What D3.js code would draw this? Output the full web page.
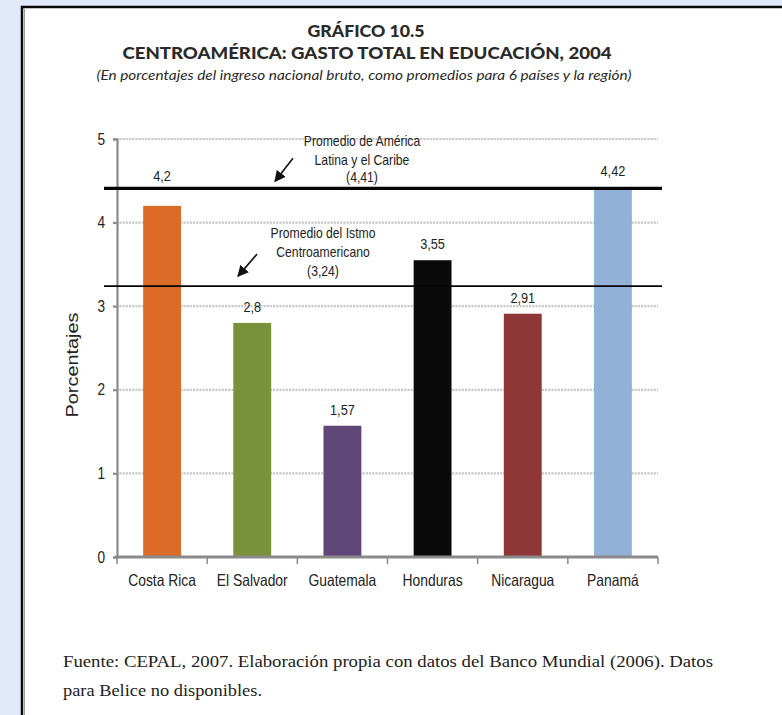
<!DOCTYPE html>
<html>
<head>
<meta charset="utf-8">
<script src="https://cdn.jsdelivr.net/npm/d3@7"></script>
<style>
  html, body { margin: 0; padding: 0; background: #dfe9fa; }
  svg { display: block; }
  .narrow { font-family: "Liberation Sans", Arial, sans-serif; }
</style>
</head>
<body>
<svg id="chart" width="782" height="715"></svg>
<script>
// ---- data ----
const categories = ["Costa Rica", "El Salvador", "Guatemala", "Honduras", "Nicaragua", "Panamá"];
const values = [4.2, 2.8, 1.57, 3.55, 2.91, 4.42];
const valueLabels = ["4,2", "2,8", "1,57", "3,55", "2,91", "4,42"];
const barColors = ["#dc6b28", "#7a913b", "#5f4879", "#090a09", "#8f3636", "#93b0d6"];
const yTicks = [0, 1, 2, 3, 4, 5];
const refValues = [4.41, 3.24];
const refLabels = [
  ["Promedio de América", "Latina y el Caribe", "(4,41)"],
  ["Promedio del Istmo", "Centroamericano", "(3,24)"]
];
const titleLines = ["GRÁFICO 10.5", "CENTROAMÉRICA: GASTO TOTAL EN EDUCACIÓN, 2004"];
const subtitle = "(En porcentajes del ingreso nacional bruto, como promedios para 6 países y la región)";
const yAxisTitle = "Porcentajes";
const footerLines = [
  "Fuente: CEPAL, 2007. Elaboración propia con datos del Banco Mundial (2006). Datos",
  "para Belice no disponibles."
];

// ---- helpers ----
function condense(sel, factor) {
  sel.each(function () {
    const w = this.getComputedTextLength();
    d3.select(this).attr("textLength", w * factor).attr("lengthAdjust", "spacingAndGlyphs");
  });
}

// ---- layout ----
const svg = d3.select("#chart");
const plot = { left: 117, right: 658, top: 139, bottom: 557 };

// panel
svg.append("rect").attr("x", 22).attr("y", 7).attr("width", 800).attr("height", 760)
  .attr("fill", "#ffffff").attr("stroke", "#0b0b0b").attr("stroke-width", 2.5);
svg.append("line").attr("x1", 24.5).attr("x2", 24.5).attr("y1", 9).attr("y2", 715)
  .attr("stroke", "#9a9a9a").attr("stroke-width", 1);

// titles
svg.append("text").attr("x", 366).attr("y", 37).attr("text-anchor", "middle")
  .attr("font-family", "Lato, 'Open Sans', sans-serif").attr("font-weight", "900")
  .attr("font-size", 17).attr("fill", "#2a2a2a")
  .attr("textLength", 117).attr("lengthAdjust", "spacingAndGlyphs").text(titleLines[0]);
svg.append("text").attr("x", 367).attr("y", 59).attr("text-anchor", "middle")
  .attr("font-family", "Lato, 'Open Sans', sans-serif").attr("font-weight", "900")
  .attr("font-size", 17).attr("fill", "#2a2a2a")
  .attr("textLength", 489).attr("lengthAdjust", "spacingAndGlyphs").text(titleLines[1]);
svg.append("text").attr("x", 364).attr("y", 80).attr("text-anchor", "middle")
  .attr("font-family", "Lato, 'Open Sans', sans-serif").attr("font-style", "italic")
  .attr("font-size", 13).attr("fill", "#2a2a2a")
  .attr("textLength", 535).attr("lengthAdjust", "spacingAndGlyphs").text(subtitle);

// scales
const x = d3.scaleBand().domain(categories).range([plot.left, plot.right])
  .paddingInner(0.58).paddingOuter(0.29);
const y = d3.scaleLinear().domain([0, 5]).range([plot.bottom, plot.top]);

// gridlines
svg.append("g").selectAll("line").data(yTicks.filter(d => d > 0)).join("line")
  .attr("x1", plot.left - 4).attr("x2", plot.right)
  .attr("y1", d => y(d)).attr("y2", d => y(d))
  .attr("stroke", "#c4c4c4").attr("stroke-width", 2.2).attr("stroke-dasharray", "2,1.2");

// y axis
const yAxis = svg.append("g").attr("transform", `translate(${plot.left},0)`)
  .call(d3.axisLeft(y).tickValues(yTicks).tickSize(4).tickPadding(8).tickFormat(d3.format("d")));
yAxis.select(".domain").attr("stroke", "#8a8a8a").attr("stroke-width", 2.2);
yAxis.selectAll(".tick line").attr("stroke", "#8a8a8a").attr("stroke-width", 2);
yAxis.selectAll(".tick text").attr("class", "narrow").attr("font-size", 16).attr("fill", "#222")
  .attr("font-family", "'Liberation Sans', Arial, sans-serif");
condense(yAxis.selectAll(".tick text"), 0.85);

// bars
svg.append("g").selectAll("rect").data(values).join("rect")
  .attr("x", (d, i) => x(categories[i]))
  .attr("y", d => y(d))
  .attr("width", x.bandwidth())
  .attr("height", d => y(0) - y(d))
  .attr("fill", (d, i) => barColors[i]);

// x axis
const xAxisG = svg.append("g").attr("transform", `translate(0,${plot.bottom})`);
xAxisG.append("line").attr("x1", plot.left - 2).attr("x2", plot.right)
  .attr("y1", 0).attr("y2", 0).attr("stroke", "#8a8a8a").attr("stroke-width", 3);
const step = x.step();
const boundaries = d3.range(categories.length + 1).map(i => plot.left + i * step);
xAxisG.selectAll("line.tk").data(boundaries).join("line").attr("class", "tk")
  .attr("x1", d => d).attr("x2", d => d).attr("y1", 0).attr("y2", 7)
  .attr("stroke", "#8a8a8a").attr("stroke-width", 1.5);
const xLabels = xAxisG.selectAll("text").data(categories).join("text")
  .attr("class", "narrow")
  .attr("x", d => x(d) + x.bandwidth() / 2).attr("y", 29)
  .attr("text-anchor", "middle").attr("font-size", 16.5).attr("fill", "#222")
  .text(d => d);
condense(xLabels, 0.84);

// y axis title
svg.append("text").attr("class", "narrow")
  .attr("transform", `translate(78,${(plot.top + plot.bottom) / 2 + 17}) rotate(-90)`)
  .attr("text-anchor", "middle").attr("font-size", 16).attr("fill", "#222")
  .attr("textLength", 105).attr("lengthAdjust", "spacingAndGlyphs")
  .text(yAxisTitle);

// reference lines
const refWidths = [3.2, 1.6];
svg.append("g").selectAll("line").data(refValues).join("line")
  .attr("x1", plot.left - 13).attr("x2", plot.right + 4)
  .attr("y1", d => y(d)).attr("y2", d => y(d))
  .attr("stroke", "#050505").attr("stroke-width", (d, i) => refWidths[i]);

// value labels (shift above reference line if they would collide)
const vl = svg.append("g").selectAll("text").data(values).join("text")
  .attr("class", "narrow")
  .attr("x", (d, i) => x(categories[i]) + x.bandwidth() / 2)
  .attr("y", d => {
    let ly = y(d) - 11;
    for (const r of refValues) {
      const ry = y(r);
      if (ly > ry - 6 && ly - 14 < ry + 2 && ry < y(d)) ly = ry - 7;
    }
    return ly;
  })
  .attr("text-anchor", "middle").attr("font-size", 15.5).attr("fill", "#222")
  .text((d, i) => valueLabels[i]);
condense(vl, 0.82);

// annotations
svg.append("defs").append("marker").attr("id", "ah").attr("viewBox", "0 0 10 10")
  .attr("refX", 9).attr("refY", 5).attr("markerWidth", 7).attr("markerHeight", 7)
  .attr("orient", "auto").append("path").attr("d", "M0,0 L10,5 L0,10 Z").attr("fill", "#111");

const annCenters = [362, 323];
const annOffsets = [[-42, -23, -6], [-48, -29, -10]];
refValues.forEach((r, k) => {
  const g = svg.append("g");
  refLabels[k].forEach((line, j) => {
    g.append("text").attr("class", "narrow")
      .attr("x", annCenters[k]).attr("y", y(r) + annOffsets[k][j])
      .attr("text-anchor", "middle").attr("font-size", 14.5).attr("fill", "#222")
      .text(line);
  });
  condense(g.selectAll("text"), 0.84);
});
// arrows
const arrows = [
  { x1: 293, dy1: -30, x2: 275, dy2: -7 },
  { x1: 257, dy1: -32, x2: 238, dy2: -10 }
];
arrows.forEach((a, k) => {
  svg.append("line").attr("x1", a.x1).attr("y1", y(refValues[k]) + a.dy1)
    .attr("x2", a.x2).attr("y2", y(refValues[k]) + a.dy2)
    .attr("stroke", "#111").attr("stroke-width", 1.6).attr("marker-end", "url(#ah)");
});

// footer
svg.append("text").attr("x", 63).attr("y", 667)
  .attr("font-family", "'Liberation Serif', 'DejaVu Serif', serif").attr("font-size", 16)
  .attr("fill", "#222").attr("textLength", 650).attr("lengthAdjust", "spacingAndGlyphs")
  .text(footerLines[0]);
svg.append("text").attr("x", 63).attr("y", 696)
  .attr("font-family", "'Liberation Serif', 'DejaVu Serif', serif").attr("font-size", 16)
  .attr("fill", "#222").attr("textLength", 199).attr("lengthAdjust", "spacingAndGlyphs")
  .text(footerLines[1]);
</script>
</body>
</html>
